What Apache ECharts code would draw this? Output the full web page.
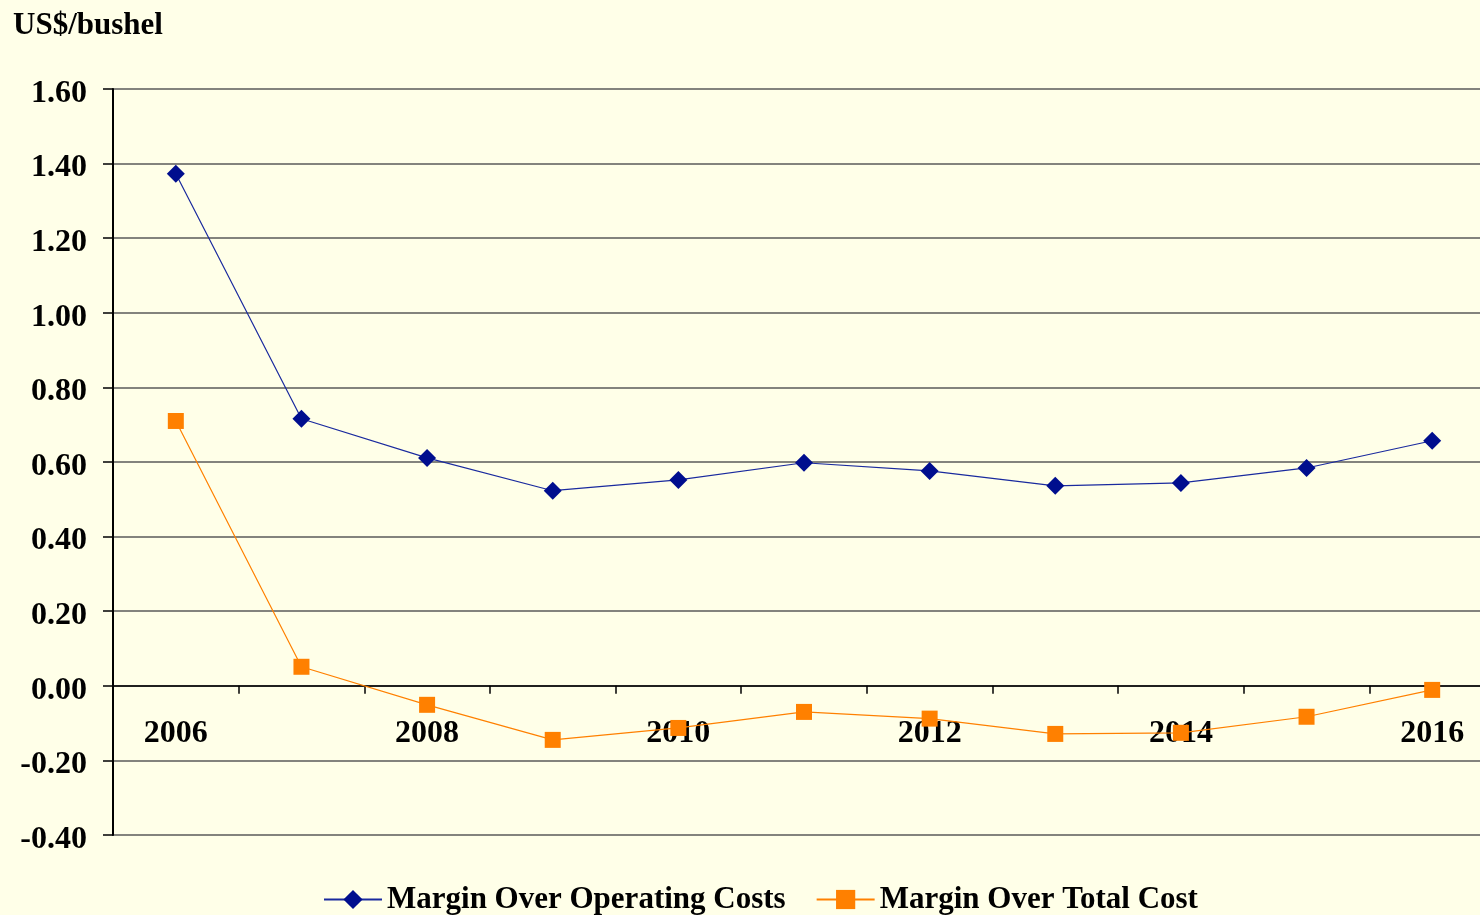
<!DOCTYPE html>
<html>
<head>
<meta charset="utf-8">
<script src="https://cdn.jsdelivr.net/npm/echarts@6/dist/echarts.min.js"></script>
<style>
  html, body { margin: 0; padding: 0; background: #ffffe8; }
  #chart { width: 1480px; height: 915px; }
</style>
</head>
<body>
<div id="chart"></div>
<script>
// years on the x axis
const years = ['2006', '2007', '2008', '2009', '2010', '2011', '2012', '2013', '2014', '2015', '2016']
// margins in US$/bushel
const operatingMargin = [1.373, 0.716, 0.611, 0.523, 0.552, 0.598, 0.576, 0.536, 0.544, 0.584, 0.657]
const totalMargin = [0.710, 0.051, -0.051, -0.145, -0.113, -0.070, -0.088, -0.129, -0.126, -0.083, -0.011]

const serif = '"Liberation Serif", "Times New Roman", serif'

const chart = echarts.init(document.getElementById('chart'))

const option = {
  backgroundColor: '#ffffe8',
  animation: false,
  title: {
    text: 'US$/bushel',
    left: 8,
    top: 5,
    textStyle: { fontFamily: serif, fontSize: 31, fontWeight: 'bold', color: '#000' },
  },
  // the plot runs a bit past the right edge of the picture
  grid: { left: 113, right: -15, top: 89, bottom: 80, outerBoundsMode: 'none', containLabel: false },
  legend: {
    bottom: -5,
    left: 318,
    itemWidth: 58,
    itemHeight: 24,
    itemGap: 30,
    textStyle: { fontFamily: serif, fontSize: 31, fontWeight: 'bold', color: '#000' },
    data: ['Margin Over Operating Costs', 'Margin Over Total Cost'],
  },
  xAxis: {
    type: 'category',
    data: years,
    boundaryGap: true,
    axisLine: { onZero: true, lineStyle: { color: '#000', width: 1.5 } },
    axisTick: { show: true, interval: 0, length: 8, lineStyle: { color: '#000', width: 1.5 } },
    axisLabel: {
      interval: 1,
      // labels sit just under the zero line, not at the bottom of the grid
      margin: -117,
      fontFamily: serif,
      fontSize: 32,
      fontWeight: 'bold',
      color: '#000',
    },
    splitLine: { show: false },
  },
  yAxis: {
    type: 'value',
    min: -0.4,
    max: 1.6,
    interval: 0.2,
    axisLine: { show: true, lineStyle: { color: '#000', width: 2 } },
    axisTick: { show: true, length: 10, lineStyle: { color: '#000', width: 1.5 } },
    axisLabel: {
      formatter: (v) => '{v|' + v.toFixed(2) + '}',
      margin: 26,
      rich: {
        v: {
          padding: [9, 0, 0, 0],
          fontFamily: serif,
          fontSize: 32,
          fontWeight: 'bold',
          color: '#000',
        },
      },
    },
    splitLine: { show: true, lineStyle: { color: '#5a5a5a', width: 1.5 } },
  },
  series: [
    {
      name: 'Margin Over Operating Costs',
      type: 'line',
      data: operatingMargin,
      symbol: 'diamond',
      symbolSize: 18,
      itemStyle: { color: '#000e8e' },
      lineStyle: { color: '#1a2a9e', width: 1.2 },
    },
    {
      name: 'Margin Over Total Cost',
      type: 'line',
      data: totalMargin,
      symbol: 'rect',
      symbolSize: 16,
      itemStyle: { color: '#ff8000' },
      lineStyle: { color: '#ff8000', width: 1.2 },
    },
  ],
}

chart.setOption(option)
</script>
</body>
</html>
